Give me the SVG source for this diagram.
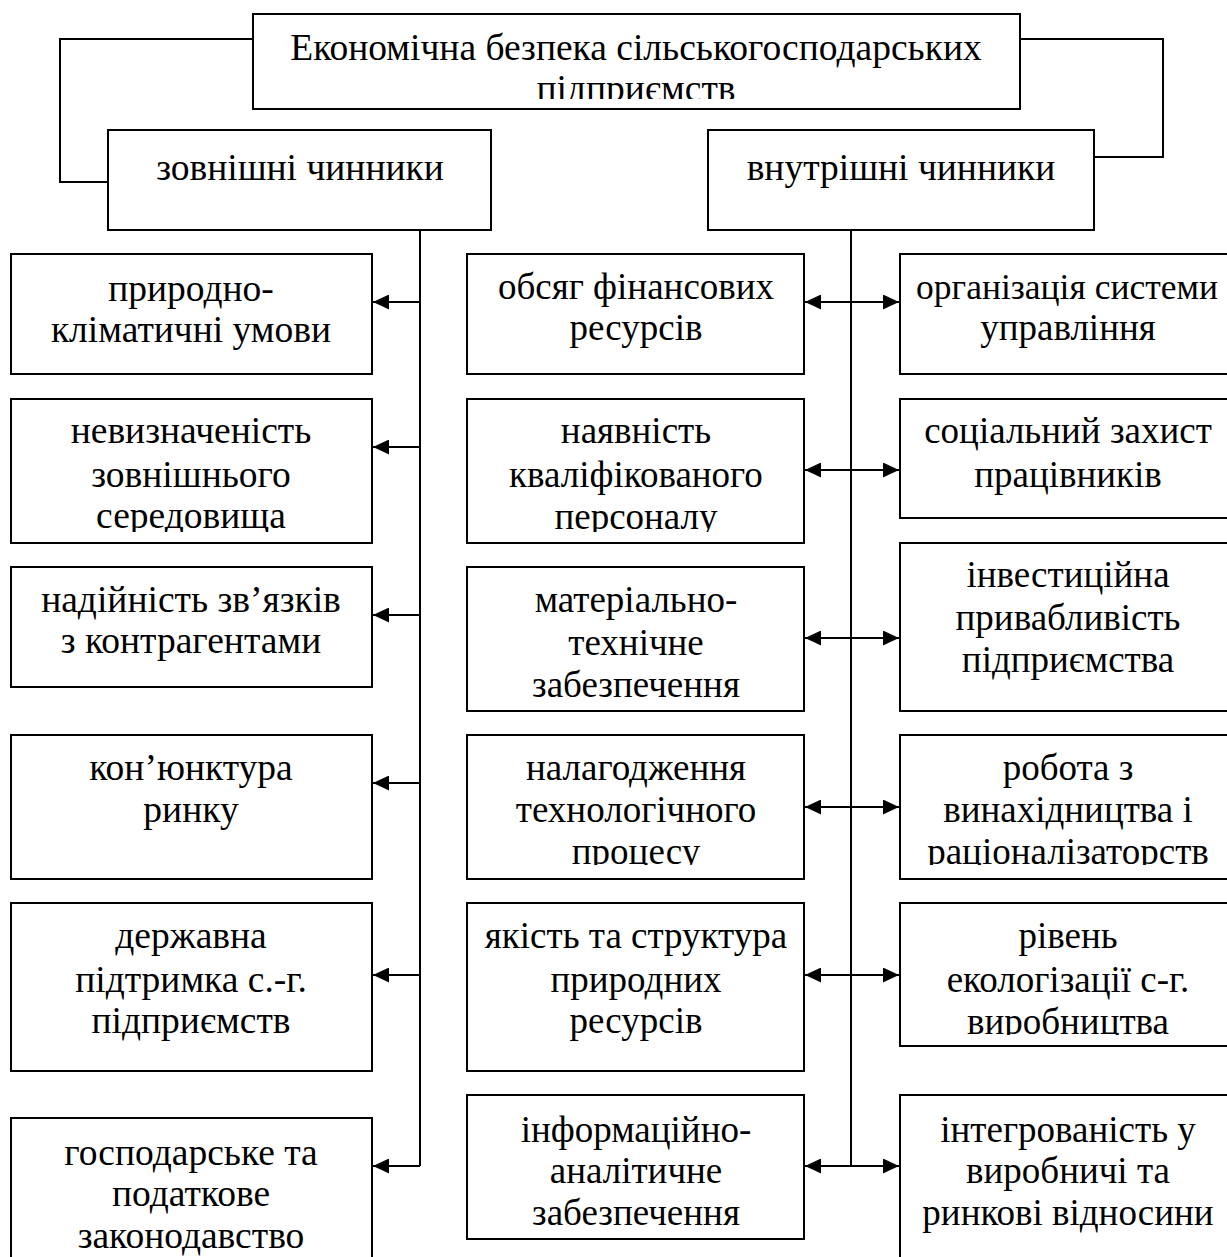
<svg xmlns="http://www.w3.org/2000/svg" width="1227" height="1257" viewBox="0 0 1227 1257">
<style>
.box{fill:#fff;stroke:#000;stroke-width:2}
.t{font-family:"Liberation Serif","Times New Roman",serif;font-size:37px;text-anchor:middle;fill:#000}
.big{font-size:37.5px}
.c{stroke:#000;stroke-width:2;fill:none}
</style>
<defs>
<marker id="ah" markerWidth="16" markerHeight="15" refX="16" refY="7.5" orient="auto-start-reverse" markerUnits="userSpaceOnUse"><path d="M0,0 L16,7.5 L0,15 Z" fill="#000"/></marker>
<clipPath id="clipTop" clipPathUnits="userSpaceOnUse"><rect x="253" y="15" width="767" height="84"/></clipPath>
<clipPath id="clipRow2" clipPathUnits="userSpaceOnUse"><rect x="0" y="399" width="1227" height="133"/></clipPath>
<clipPath id="clipRow4" clipPathUnits="userSpaceOnUse"><rect x="0" y="735" width="1227" height="130"/></clipPath>
<clipPath id="clipR5" clipPathUnits="userSpaceOnUse"><rect x="900" y="903" width="337" height="132"/></clipPath>
</defs>

<g id="connectors">
<path class="c" d="M253,39 H60 V182 H108"/>
<path class="c" d="M1020,39 H1163 V157 H1094"/>
<path class="c" d="M420,230 V1166"/>
<path class="c" d="M851,207 V1166"/>
<path class="c" d="M420,302 H373" marker-end="url(#ah)"/>
<path class="c" d="M420,447 H373" marker-end="url(#ah)"/>
<path class="c" d="M420,615 H373" marker-end="url(#ah)"/>
<path class="c" d="M420,783 H373" marker-end="url(#ah)"/>
<path class="c" d="M420,975 H373" marker-end="url(#ah)"/>
<path class="c" d="M420,1166 H373" marker-end="url(#ah)"/>
<path class="c" d="M805,302 H899" marker-start="url(#ah)" marker-end="url(#ah)"/>
<path class="c" d="M805,470 H899" marker-start="url(#ah)" marker-end="url(#ah)"/>
<path class="c" d="M805,638 H899" marker-start="url(#ah)" marker-end="url(#ah)"/>
<path class="c" d="M805,807 H899" marker-start="url(#ah)" marker-end="url(#ah)"/>
<path class="c" d="M805,975 H899" marker-start="url(#ah)" marker-end="url(#ah)"/>
<path class="c" d="M805,1166 H899" marker-start="url(#ah)" marker-end="url(#ah)"/>
</g>

<g id="top">
<rect class="box" x="253" y="14" width="767" height="95"/>
<g clip-path="url(#clipTop)">
<text class="t big" x="636" y="60">Економічна безпека сільськогосподарських</text>
<text class="t big" x="636" y="101">підприємств</text>
</g>
</g>

<g id="external">
<rect class="box" x="108" y="130" width="383" height="100"/>
<text class="t big" x="300" y="180">зовнішні чинники</text>
</g>
<g id="internal">
<rect class="box" x="708" y="130" width="386" height="100"/>
<text class="t big" x="901" y="180">внутрішні чинники</text>
</g>

<g id="L1"><rect class="box" x="11" y="254" width="361" height="120"/>
<text class="t big" x="191" y="301">природно-</text><text class="t big" x="191" y="342">кліматичні умови</text></g>
<g id="L2"><rect class="box" x="11" y="399" width="361" height="144"/>
<g clip-path="url(#clipRow2)"><text class="t big" x="191" y="443">невизначеність</text><text class="t big" x="191" y="487">зовнішнього</text><text class="t big" x="191" y="528">середовища</text></g></g>
<g id="L3"><rect class="box" x="11" y="567" width="361" height="120"/>
<text class="t big" x="191" y="612">надійність зв’язків</text><text class="t big" x="191" y="653">з контрагентами</text></g>
<g id="L4"><rect class="box" x="11" y="735" width="361" height="144"/>
<text class="t big" x="191" y="780">кон’юнктура</text><text class="t big" x="191" y="822">ринку</text></g>
<g id="L5"><rect class="box" x="11" y="903" width="361" height="168"/>
<text class="t big" x="191" y="948">державна</text><text class="t big" x="191" y="992">підтримка с.-г.</text><text class="t big" x="191" y="1033">підприємств</text></g>
<g id="L6"><rect class="box" x="11" y="1118" width="361" height="160"/>
<text class="t big" x="191" y="1165">господарське та</text><text class="t big" x="191" y="1206">податкове</text><text class="t big" x="191" y="1248">законодавство</text></g>

<g id="M1"><rect class="box" x="467" y="254" width="337" height="120"/>
<text class="t" x="636" y="299">обсяг фінансових</text><text class="t" x="636" y="340">ресурсів</text></g>
<g id="M2"><rect class="box" x="467" y="399" width="337" height="144"/>
<g clip-path="url(#clipRow2)"><text class="t" x="636" y="443">наявність</text><text class="t" x="636" y="487">кваліфікованого</text><text class="t" x="636" y="529">персоналу</text></g></g>
<g id="M3"><rect class="box" x="467" y="567" width="337" height="144"/>
<text class="t" x="636" y="612">матеріально-</text><text class="t" x="636" y="655">технічне</text><text class="t" x="636" y="697">забезпечення</text></g>
<g id="M4"><rect class="box" x="467" y="735" width="337" height="144"/>
<g clip-path="url(#clipRow4)"><text class="t" x="636" y="780">налагодження</text><text class="t" x="636" y="822">технологічного</text><text class="t" x="636" y="864">процесу</text></g></g>
<g id="M5"><rect class="box" x="467" y="903" width="337" height="168"/>
<text class="t" x="636" y="948">якість та структура</text><text class="t" x="636" y="992">природних</text><text class="t" x="636" y="1033">ресурсів</text></g>
<g id="M6"><rect class="box" x="467" y="1095" width="337" height="144"/>
<text class="t" x="636" y="1142">інформаційно-</text><text class="t" x="636" y="1183">аналітичне</text><text class="t" x="636" y="1225">забезпечення</text></g>

<g id="R1"><rect class="box" x="900" y="254" width="337" height="120"/>
<text class="t" x="1067" y="299" style="font-size:35.5px">організація системи</text><text class="t" x="1068" y="340">управління</text></g>
<g id="R2"><rect class="box" x="900" y="399" width="337" height="119"/>
<text class="t" x="1068" y="443">соціальний захист</text><text class="t" x="1068" y="487">працівників</text></g>
<g id="R3"><rect class="box" x="900" y="543" width="337" height="168"/>
<text class="t" x="1068" y="587">інвестиційна</text><text class="t" x="1068" y="630">привабливість</text><text class="t" x="1068" y="672">підприємства</text></g>
<g id="R4"><rect class="box" x="900" y="735" width="337" height="144"/>
<g clip-path="url(#clipRow4)"><text class="t" x="1068" y="780">робота з</text><text class="t" x="1068" y="822">винахідництва і</text><text class="t" x="1068" y="864">раціоналізаторств</text></g></g>
<g id="R5"><rect class="box" x="900" y="903" width="337" height="143"/>
<g clip-path="url(#clipR5)"><text class="t" x="1068" y="948">рівень</text><text class="t" x="1068" y="992">екологізації с-г.</text><text class="t" x="1068" y="1034">виробництва</text></g></g>
<g id="R6"><rect class="box" x="900" y="1095" width="337" height="180"/>
<text class="t" x="1068" y="1142">інтегрованість у</text><text class="t" x="1068" y="1183">виробничі та</text><text class="t" x="1068" y="1225">ринкові відносини</text></g>
</svg>
